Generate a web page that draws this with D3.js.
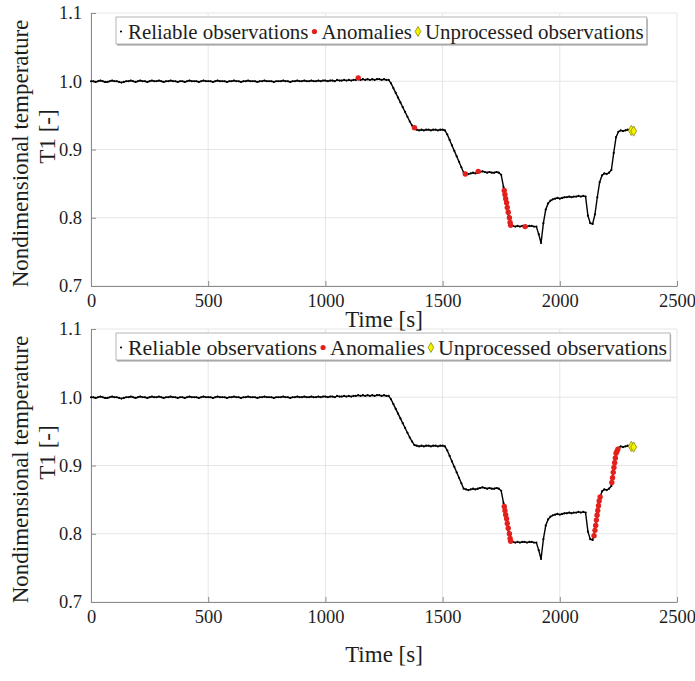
<!DOCTYPE html>
<html>
<head>
<meta charset="utf-8">
<script src="https://cdn.jsdelivr.net/npm/d3@7"></script>
<style>
  body { margin: 0; background: #fff; }
  svg { display: block; font-family: "Liberation Serif", "Times New Roman", serif; }
</style>
</head>
<body>
<svg id="chart"></svg>
<script>
// observations every 10 s, starting at t = 0
const timeStep = 10;
const t1Values = [
  1.000, 1.000, 0.999, 1.000, 1.001, 1.000, 0.999, 0.999, 1.000, 1.001,
  1.000, 1.000, 0.999, 0.998, 0.999, 1.000, 1.000, 1.001, 1.000, 0.999,
  1.000, 1.001, 1.000, 1.000, 0.999, 1.000, 1.001, 1.000, 1.000, 1.001,
  1.000, 0.999, 1.000, 1.000, 1.001, 1.000, 1.000, 0.999, 1.000, 1.000,
  0.999, 1.000, 1.001, 1.000, 1.000, 1.000, 0.999, 1.000, 1.001, 1.000,
  1.000, 1.000, 0.999, 1.000, 1.001, 1.000, 1.000, 1.000, 0.999, 1.000,
  1.000, 1.001, 1.000, 1.000, 0.999, 1.000, 1.000, 1.001, 1.000, 1.000,
  1.000, 0.999, 1.000, 1.000, 1.001, 1.000, 1.000, 1.000, 0.999, 1.000,
  1.000, 1.000, 1.001, 1.000, 1.000, 0.999, 1.000, 1.000, 1.001, 1.000,
  1.000, 1.001, 1.000, 1.000, 1.001, 1.000, 1.000, 1.001, 1.000, 1.001,
  1.001, 1.000, 1.001, 1.001, 1.000, 1.002, 1.001, 1.001, 1.002, 1.001,
  1.002, 1.001, 1.002, 1.002, 1.003, 1.002, 1.003, 1.002, 1.003, 1.002,
  1.003, 1.002, 1.003, 1.003, 1.002, 1.003, 1.002, 1.002, 0.997, 0.990,
  0.983, 0.976, 0.969, 0.962, 0.955, 0.948, 0.941, 0.935, 0.930, 0.929,
  0.928, 0.929, 0.928, 0.929, 0.929, 0.928, 0.929, 0.929, 0.928, 0.929,
  0.929, 0.928, 0.922, 0.914, 0.906, 0.898, 0.890, 0.882, 0.874, 0.866,
  0.865, 0.864, 0.865, 0.866, 0.865, 0.866, 0.867, 0.868, 0.867, 0.866,
  0.867, 0.866, 0.866, 0.867, 0.866, 0.863, 0.845, 0.826, 0.805, 0.790,
  0.788, 0.787, 0.788, 0.787, 0.788, 0.788, 0.787, 0.788, 0.788, 0.787,
  0.787, 0.776, 0.763, 0.792, 0.812, 0.821, 0.825, 0.827, 0.828, 0.829,
  0.828, 0.829, 0.830, 0.830, 0.831, 0.830, 0.831, 0.831, 0.832, 0.831,
  0.832, 0.831, 0.803, 0.792, 0.791, 0.805, 0.830, 0.852, 0.862, 0.865,
  0.864, 0.866, 0.870, 0.895, 0.918, 0.926, 0.928, 0.927, 0.928, 0.929,
  0.928, 0.927, 0.928
];

// anomalies flagged in the upper panel
const anomalyTimeTop = [1140, 1380, 1597, 1652, 1763, 1766, 1769, 1773, 1776, 1780, 1785, 1788, 1790, 1852];
const anomalyValueTop = [1.005, 0.932, 0.864, 0.868, 0.840, 0.834, 0.828, 0.822, 0.815, 0.808, 0.800, 0.793, 0.789, 0.787];

// anomalies flagged in the lower panel
const anomalyTimeBottom = [1763, 1766, 1769, 1773, 1776, 1780, 1785, 1788, 1790,
  2146, 2150, 2153, 2156, 2159, 2162, 2165, 2168, 2172,
  2222, 2225, 2228, 2231, 2234, 2237, 2240, 2244, 2248];
const anomalyValueBottom = [0.840, 0.834, 0.828, 0.822, 0.815, 0.808, 0.800, 0.793, 0.789,
  0.797, 0.805, 0.812, 0.820, 0.827, 0.834, 0.841, 0.848, 0.854,
  0.875, 0.882, 0.890, 0.897, 0.904, 0.911, 0.918, 0.921, 0.924];

const unprocessedTime = [2305, 2315];
const unprocessedValue = [0.928, 0.927];

const xTicks = [0, 500, 1000, 1500, 2000, 2500];
const yTicks = [0.7, 0.8, 0.9, 1.0, 1.1];
const legendLabels = ["Reliable observations", "Anomalies", "Unprocessed observations"];
const xTitle = "Time [s]";
const yTitleLines = ["Nondimensional temperature", "T1 [-]"];

const width = 695;
const height = 681;
const svg = d3.select("#chart").attr("width", width).attr("height", height);

const reliable = t1Values.map((v, i) => ({ t: i * timeStep, v: v }));
const unprocessed = unprocessedTime.map((t, i) => ({ t: t, v: unprocessedValue[i] }));

const redColor = "#e3201b";
const yellowFill = "#f2f200";
const yellowEdge = "#8c8c00";
const axisColor = "#8a8a8a";
const gridColor = "#e6e6e6";
const textColor = "#1e1e1e";
const serif = "'Liberation Serif', 'Times New Roman', serif";

const titleLayer = [];

function drawPanel(top, anomTime, anomValue, legendSize, xTitleGap) {
  const anomalies = anomTime.map((t, i) => ({ t: t, v: anomValue[i] }));

  const xScale = d3.scaleLinear().domain([0, 2500]).range([91, 677]);
  const yScale = d3.scaleLinear().domain([0.7, 1.1]).range([top + 273, top]);

  const g = svg.append("g");

  // grid
  g.append("g")
    .selectAll("line")
    .data(xTicks)
    .join("line")
    .attr("x1", (d) => xScale(d))
    .attr("x2", (d) => xScale(d))
    .attr("y1", yScale(0.7))
    .attr("y2", yScale(1.1))
    .attr("stroke", gridColor);
  g.append("g")
    .selectAll("line")
    .data(yTicks)
    .join("line")
    .attr("x1", xScale(0))
    .attr("x2", xScale(2500))
    .attr("y1", (d) => yScale(d))
    .attr("y2", (d) => yScale(d))
    .attr("stroke", gridColor);

  const xAxis = d3.axisBottom(xScale).tickValues(xTicks).tickSizeInner(-5).tickSizeOuter(0).tickPadding(8).tickFormat(d3.format("d"));
  const yAxis = d3.axisLeft(yScale).tickValues(yTicks).tickSizeInner(-5).tickSizeOuter(0).tickPadding(9).tickFormat(d3.format(".1f"));

  const gx = g.append("g")
    .attr("class", "x axis")
    .attr("transform", "translate(0," + yScale(0.7) + ")")
    .call(xAxis);
  const gy = g.append("g")
    .attr("class", "y axis")
    .attr("transform", "translate(" + xScale(0) + ",0)")
    .call(yAxis);

  [gx, gy].forEach((a) => {
    a.select(".domain").attr("stroke", axisColor);
    a.selectAll(".tick line").attr("stroke", axisColor);
    a.selectAll(".tick text")
      .attr("fill", textColor)
      .style("font-size", "18.5px")
      .style("font-family", serif);
  });

  // reliable observations
  const line = d3.line().x((d) => xScale(d.t)).y((d) => yScale(d.v));
  g.append("path")
    .datum(reliable)
    .attr("d", line)
    .attr("fill", "none")
    .attr("stroke", "#000")
    .attr("stroke-width", 1.4);
  g.append("g")
    .selectAll("circle")
    .data(reliable)
    .join("circle")
    .attr("cx", (d) => xScale(d.t))
    .attr("cy", (d) => yScale(d.v))
    .attr("r", 1.1)
    .attr("fill", "#000");

  // anomalies
  g.append("g")
    .selectAll("circle")
    .data(anomalies)
    .join("circle")
    .attr("cx", (d) => xScale(d.t))
    .attr("cy", (d) => yScale(d.v))
    .attr("r", 2.7)
    .attr("fill", redColor);

  // unprocessed
  g.append("g")
    .selectAll("path")
    .data(unprocessed)
    .join("path")
    .attr("d", d3.symbol().type(d3.symbolDiamond).size(30))
    .attr("transform", (d) => "translate(" + xScale(d.t) + "," + yScale(d.v) + ")")
    .attr("fill", yellowFill)
    .attr("stroke", yellowEdge)
    .attr("stroke-width", 0.8);

  // legend
  const lg = g.append("g");
  const boxX = 116;
  const boxY = top + 4;
  const boxH = 27;
  const shadow = lg.append("rect").attr("fill", "#9a9a9a");
  const box = lg.append("rect").attr("fill", "#fff").attr("stroke", "#b5b5b5");
  const cy = boxY + boxH / 2 + 1;
  let cx = boxX;
  legendLabels.forEach((label, i) => {
    const mx = cx + 5;
    if (i === 0) {
      lg.append("circle").attr("cx", mx).attr("cy", cy).attr("r", 1.1).attr("fill", "#000");
    } else if (i === 1) {
      lg.append("circle").attr("cx", mx).attr("cy", cy).attr("r", 2.6).attr("fill", redColor);
    } else {
      lg.append("path")
        .attr("d", d3.symbol().type(d3.symbolDiamond).size(28))
        .attr("transform", "translate(" + mx + "," + cy + ")")
        .attr("fill", yellowFill)
        .attr("stroke", yellowEdge)
        .attr("stroke-width", 0.8);
    }
    const t = lg.append("text")
      .attr("x", cx + 12)
      .attr("y", cy)
      .attr("dominant-baseline", "central")
      .attr("fill", textColor)
      .style("font-size", legendSize + "px")
      .text(label);
    cx = cx + 12 + t.node().getComputedTextLength() + 1;
  });
  const boxW = cx + 2 - boxX;
  shadow.attr("x", boxX + 1).attr("y", boxY + 1.5).attr("width", boxW).attr("height", boxH);
  box.attr("x", boxX).attr("y", boxY).attr("width", boxW).attr("height", boxH);

  // axis titles, drawn last so nothing hides them
  titleLayer.push({ x: (xScale(0) + xScale(2500)) / 2, y: yScale(0.7) + xTitleGap, mid: (yScale(0.7) + yScale(1.1)) / 2 });
}

drawPanel(13, anomalyTimeTop, anomalyValueTop, 20.9, 41);
drawPanel(329, anomalyTimeBottom, anomalyValueBottom, 21.9, 60);

const tg = svg.append("g").attr("fill", textColor).style("font-size", "23px");
titleLayer.forEach((p) => {
  tg.append("text")
    .attr("x", p.x)
    .attr("y", p.y)
    .attr("text-anchor", "middle")
    .text(xTitle);
  tg.append("text")
    .attr("transform", "translate(20," + (p.mid + 4) + ") rotate(-90)")
    .attr("text-anchor", "middle")
    .attr("dominant-baseline", "central")
    .text(yTitleLines[0]);
  tg.append("text")
    .attr("transform", "translate(47," + (p.mid - 13) + ") rotate(-90)")
    .attr("text-anchor", "middle")
    .attr("dominant-baseline", "central")
    .text(yTitleLines[1]);
});
</script>
</body>
</html>
